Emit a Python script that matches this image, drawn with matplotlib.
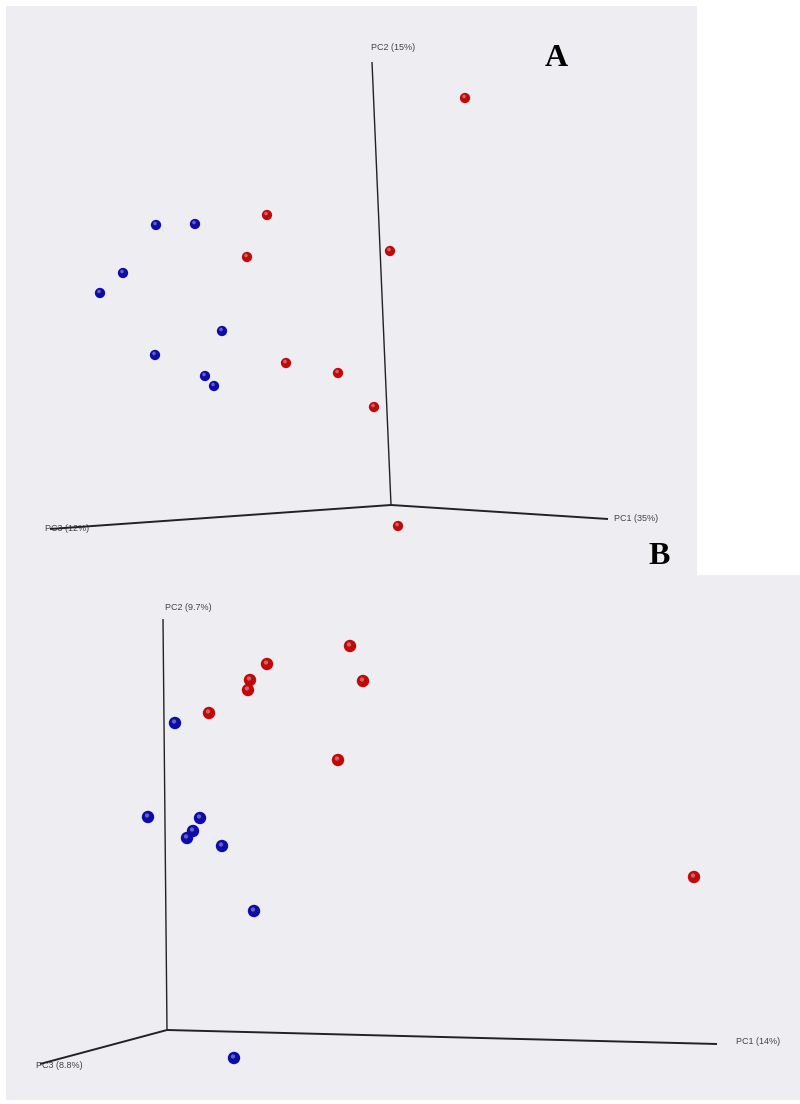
import matplotlib
matplotlib.use("Agg")
import matplotlib.pyplot as plt
import numpy as np

# ---- data: projected screen positions (pixels) of the PCoA samples ----
# panel A
a_red_x = [465, 267, 390, 247, 286, 338, 374, 398]
a_red_y = [98, 215, 251, 257, 363, 373, 407, 526]
a_blue_x = [156, 195, 123, 100, 222, 155, 205, 214]
a_blue_y = [225, 224, 273, 293, 331, 355, 376, 386]
a_origin = (391, 505)
a_axes_end = {"PC1 (35%)": (608, 519), "PC2 (15%)": (372, 62), "PC3 (12%)": (50, 529)}

# panel B
b_red_x = [350, 267, 250, 248, 363, 209, 338, 694]
b_red_y = [646, 664, 680, 690, 681, 713, 760, 877]
b_blue_x = [175, 148, 200, 193, 187, 222, 254, 234]
b_blue_y = [723, 817, 818, 831, 838, 846, 911, 1058]
b_origin = (167, 1030)
b_axes_end = {"PC1 (14%)": (717, 1044), "PC2 (9.7%)": (163, 619), "PC3 (8.8%)": (40, 1064)}

BG = "#eeedf2"
RED = "#c00a0a"
BLUE = "#0c0ca8"
W, H = 800, 1104


def panel(fig, x0, y0, x1, y1):
    ax = fig.add_axes([x0 / W, 1 - y1 / H, (x1 - x0) / W, (y1 - y0) / H])
    ax.set_xlim(x0, x1); ax.set_ylim(y1, y0)
    ax.set_facecolor(BG)
    for s in ax.spines.values():
        s.set_visible(False)
    ax.set_xticks([]); ax.set_yticks([])
    return ax


def spheres(ax, xs, ys, color, size):
    ax.scatter(xs, ys, s=size, color=color, edgecolors="none", zorder=3)
    ax.scatter(np.array(xs) - 1, np.array(ys) - 1.5, s=size * 0.12,
               color="white", alpha=0.35, edgecolors="none", zorder=4)


def draw_axes(ax, origin, ends, label_pos):
    for name, (ex, ey) in ends.items():
        lw = 1.0 if name.startswith("PC2") else 1.4
        ax.plot([origin[0], ex], [origin[1], ey], color="#222222", lw=lw,
                zorder=2, solid_capstyle="butt")
        lx, ly, ha = label_pos[name]
        ax.text(lx, ly, name, fontsize=6.5, color="#444444", ha=ha, va="center",
                family="Liberation Sans", zorder=1)


fig = plt.figure(figsize=(8, 11.04), dpi=100)

axA = panel(fig, 6, 6, 697, 575)
draw_axes(axA, a_origin, a_axes_end,
          {"PC1 (35%)": (614, 519, "left"), "PC2 (15%)": (371, 47, "left"),
           "PC3 (12%)": (45, 529, "left")})
spheres(axA, a_red_x, a_red_y, RED, 55)
spheres(axA, a_blue_x, a_blue_y, BLUE, 55)
axA.text(556, 58, "A", fontsize=23, fontweight="bold", family="Liberation Serif",
         ha="center", va="center")

axB = panel(fig, 6, 575, 800, 1100)
draw_axes(axB, b_origin, b_axes_end,
          {"PC1 (14%)": (736, 1042, "left"), "PC2 (9.7%)": (165, 607, "left"),
           "PC3 (8.8%)": (36, 1065, "left")})
spheres(axB, b_red_x, b_red_y, RED, 80)
spheres(axB, b_blue_x, b_blue_y, BLUE, 80)
fig.text(659 / W, 1 - 556 / H, "B", fontsize=23, fontweight="bold",
         family="Liberation Serif", ha="center", va="center")

fig.savefig("out.png", dpi=100)
